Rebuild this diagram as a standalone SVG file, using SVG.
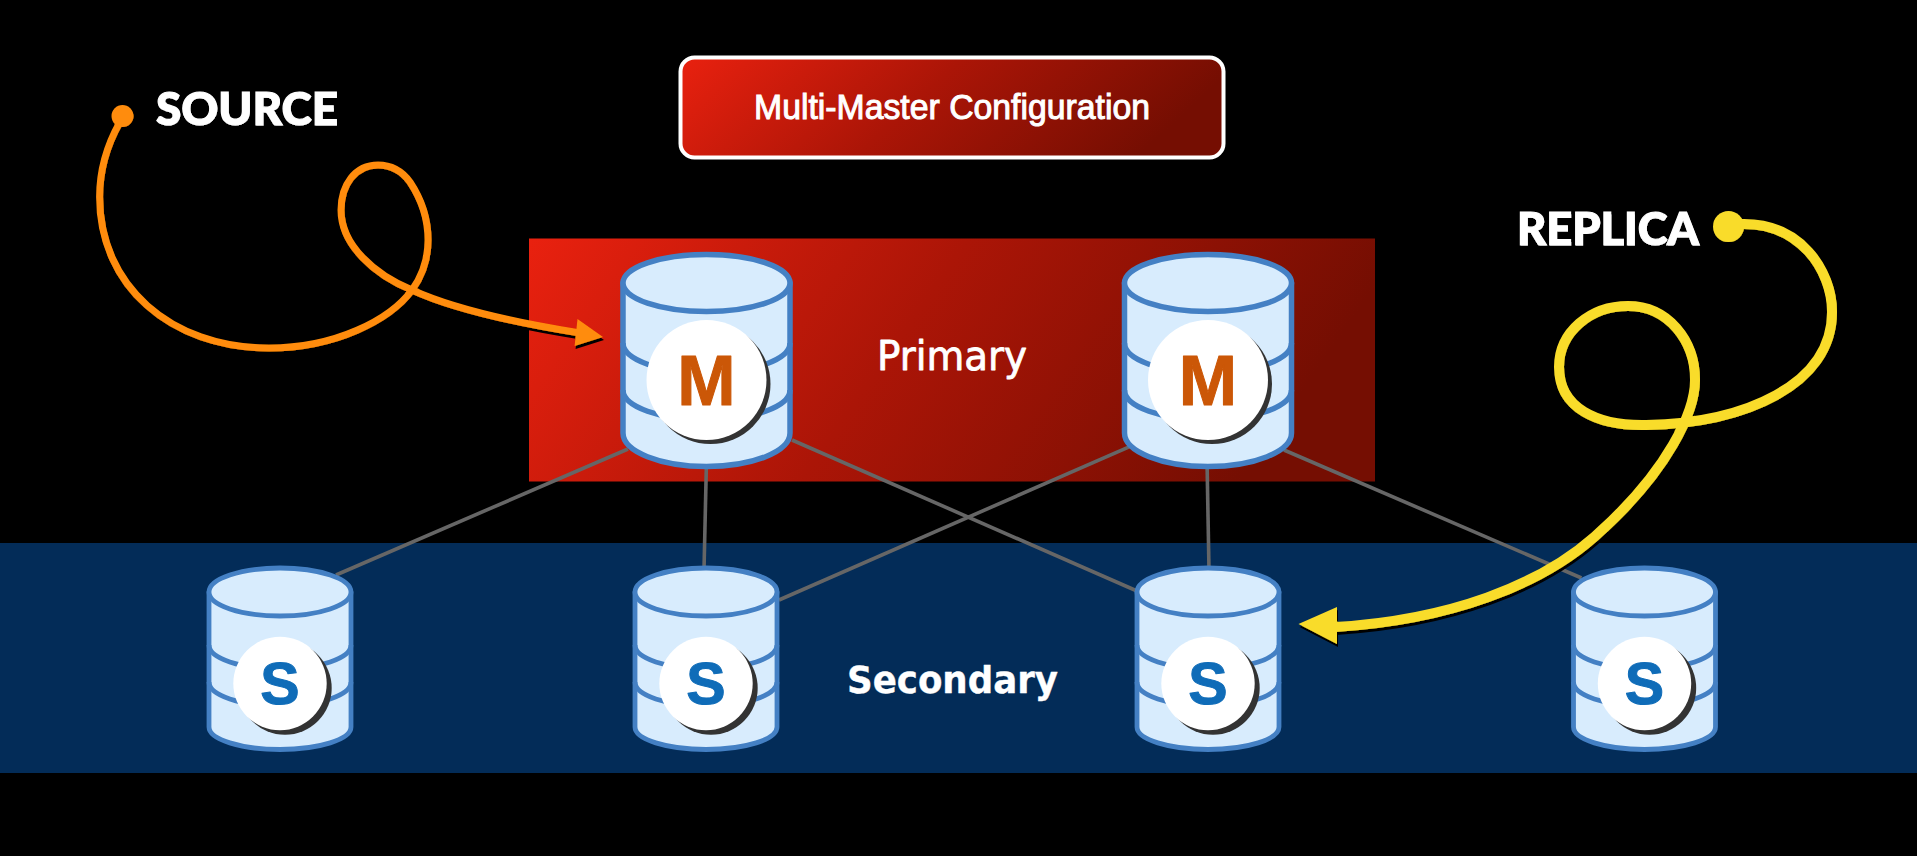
<svg xmlns="http://www.w3.org/2000/svg" width="1917" height="856" viewBox="0 0 1917 856">
<style>
.cyl{fill:#d8ecfd;stroke:#4480c4;stroke-linejoin:round}
.band{fill:none;stroke:#4480c4}
.wm{stroke-width:5.5}
.ws{stroke-width:4.8}
.disc{fill:#fff}
.disc-shadow{fill:#333}
.ltr{font-family:"Liberation Sans",Arial,sans-serif;font-weight:700;text-anchor:middle;stroke-linejoin:round}
.m .ltr{font-size:70px;fill:#cb5707;stroke:#cb5707;stroke-width:1}
.s .ltr{font-size:59px;fill:#0f6cb8;stroke:#0f6cb8;stroke-width:1}
.link{stroke:#666;stroke-width:3.6;fill:none}
.hand{font-family:"DejaVu Sans",sans-serif;fill:#fff;stroke:#fff;stroke-linejoin:round}
.tag{font-family:Lato,"Liberation Sans",sans-serif;font-weight:900;font-size:46px;fill:#fff;stroke:#fff;stroke-width:1.2}
</style>
<defs>
<linearGradient id="red" x1="0" y1="0" x2="1" y2="0.2"><stop offset="0" stop-color="#e9210f"/><stop offset="0.5" stop-color="#ab1507"/><stop offset="1" stop-color="#750e02"/></linearGradient>
<filter id="sh" x="-10%" y="-10%" width="120%" height="120%"><feDropShadow dx="1" dy="3" stdDeviation="0.6" flood-color="#000"/></filter>
<g id="cylM"><path class="cyl wm" d="M-83.5,0V150A83.5,33.5 0 0 0 83.5,150V0Z"/><ellipse class="cyl wm" cx="0" cy="0" rx="83.5" ry="28.5"/><path class="band wm" d="M-83.5,60A83.5,30 0 0 0 83.5,60M-83.5,107A83.5,30 0 0 0 83.5,107"/><circle class="disc-shadow" cx="4" cy="101" r="60"/><circle class="disc" cx="0" cy="97" r="60"/></g>
<g id="cylS"><path class="cyl ws" d="M-71,0V135A71,22.5 0 0 0 71,135V0Z"/><ellipse class="cyl ws" cx="0" cy="0" rx="71" ry="24"/><path class="band ws" d="M-71,53A71,24 0 0 0 71,53M-71,90A71,24 0 0 0 71,90"/><circle class="disc-shadow" cx="5" cy="96" r="46.7"/><circle class="disc" cx="0" cy="91.500" r="46.7"/></g>
</defs>
<rect width="1917" height="856" fill="#000"/>
<g id="secondary-band"><rect x="0" y="543" width="1917" height="230" fill="#032c58"/><text class="hand" x="847" y="693" font-size="38" font-weight="700" stroke-width="0.4" textLength="211" lengthAdjust="spacingAndGlyphs">Secondary</text></g>
<g id="primary-band"><rect x="529" y="238.500" width="846" height="243" fill="url(#red)"/><text class="hand" x="877" y="370" font-size="40" stroke-width="0.8" textLength="150" lengthAdjust="spacingAndGlyphs">Primary</text></g>
<g id="title"><rect x="680.500" y="57.500" width="543" height="100" rx="14" fill="url(#red)" stroke="#fff" stroke-width="4"/><text x="754" y="119" font-family="'Liberation Sans',Arial,sans-serif" font-size="35" fill="#fff" stroke="#fff" stroke-width="1" textLength="396" lengthAdjust="spacingAndGlyphs">Multi-Master Configuration</text></g>
<g id="connectors">
<line class="link" x1="628" y1="449" x2="336" y2="575"/>
<line class="link" x1="706.500" y1="460" x2="704" y2="570"/>
<line class="link" x1="792" y1="440" x2="1137" y2="591"/>
<line class="link" x1="1132" y1="445.600" x2="779" y2="600"/>
<line class="link" x1="1207" y1="460" x2="1209" y2="570"/>
<line class="link" x1="1284" y1="450" x2="1581.500" y2="578"/>
</g>
<g id="master-1" class="m"><use href="#cylM" x="706.500" y="283"/><text class="ltr" x="706.500" y="405">M</text></g>
<g id="master-2" class="m"><use href="#cylM" x="1208" y="283"/><text class="ltr" x="1208" y="405">M</text></g>
<g id="slave-1" class="s"><use href="#cylS" x="280" y="592"/><text class="ltr" x="280" y="704">S</text></g>
<g id="slave-2" class="s"><use href="#cylS" x="706" y="592"/><text class="ltr" x="706" y="704">S</text></g>
<g id="slave-3" class="s"><use href="#cylS" x="1208" y="592"/><text class="ltr" x="1208" y="704">S</text></g>
<g id="slave-4" class="s"><use href="#cylS" x="1644.500" y="592"/><text class="ltr" x="1644.500" y="704">S</text></g>
<g id="source" filter="url(#sh)">
<text class="tag" x="156" y="125" textLength="182" lengthAdjust="spacingAndGlyphs">SOURCE</text>
<circle cx="122.500" cy="116" r="11" fill="#ff8c0a"/>
<path fill="none" stroke="#ff8c0a" stroke-width="7" d="M120,122C107,145 99.600,170 99.600,197C99.600,285 170,348 269,348C335,348 390,320 412,290C425,272 428,255 428,240C428,215 420,197 410,182C402,171 391,165 378,165C355,165 341,185 341,210C341,245 375,275 412,290C460,312 530,325 580,333"/>
<polygon points="603,337 577.500,319 574.600,346" fill="#ff8c0a"/>
</g>
<g id="replica" filter="url(#sh)">
<text class="tag" x="1517" y="245" textLength="182" lengthAdjust="spacingAndGlyphs">REPLICA</text>
<circle cx="1728.500" cy="226.500" r="15.500" fill="#f9dc2c"/>
<path fill="none" stroke="#f9dc2c" stroke-width="10" d="M1740,224C1800,222 1832,270 1832,312C1832,385 1745,423 1646,425C1597,426 1559,408 1559,367C1559,332 1590,306 1628,306C1668,306 1695,340 1695,380C1695,410 1670,470 1594.500,536.700C1540,585 1450,620 1335,627"/>
<polygon points="1298.500,624 1337,607 1337,644" fill="#f9dc2c"/>
</g>
</svg>
